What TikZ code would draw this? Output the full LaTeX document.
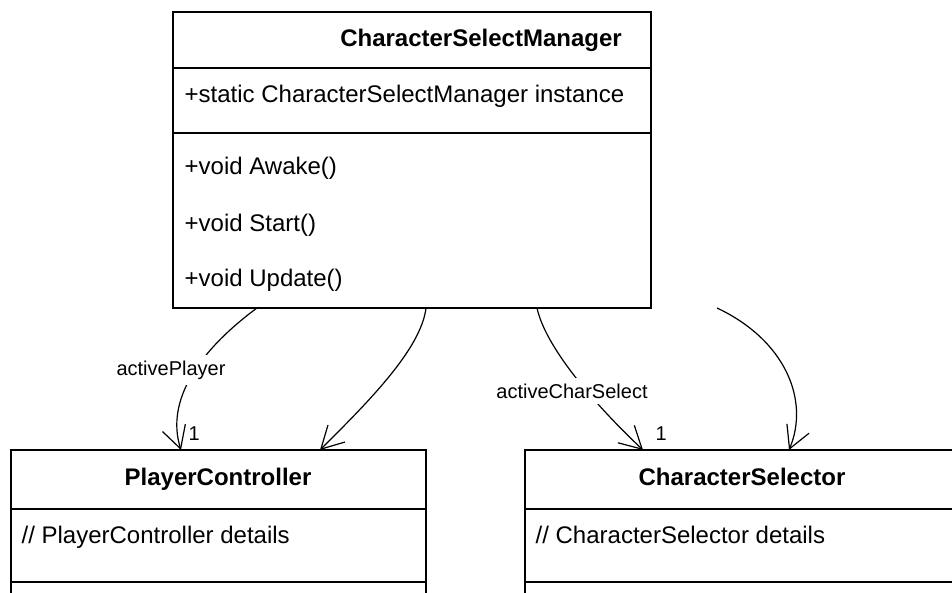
\documentclass[tikz,border=0pt]{standalone}
\usepackage{fontspec}
\setmainfont{Liberation Sans}
\usetikzlibrary{arrows.meta}

\begin{document}
\begin{tikzpicture}[x=1pt, y=-1pt, line width=1.3pt,
  classbox/.style={draw, anchor=north west, inner sep=0pt, outer sep=0pt},
  classname/.style={font=\fontsize{24}{28}\selectfont\bfseries, anchor=base, inner sep=0pt},
  member/.style={font=\fontsize{24}{28}\selectfont, anchor=base west, inner sep=0pt},
  assoc/.style={line width=1.2pt, -{Straight Barb[length=22pt,width=24pt]}},
  role/.style={font=\fontsize{20}{24}\selectfont, fill=white, anchor=base, inner xsep=2pt, inner ysep=6pt},
  mult/.style={font=\fontsize{20}{24}\selectfont, anchor=base west, inner sep=0pt}]
  \useasboundingbox (0,0) rectangle (952,593);
  \clip (0,0) rectangle (952,593);

  % classes
  \node[classbox, minimum width=478, minimum height=296] (csm) at (173,12) {};
  \node[classbox, minimum width=415, minimum height=200] (pc) at (11,450) {};
  \node[classbox, minimum width=434, minimum height=200] (cs) at (525,450) {};

  \draw ([yshift=-56]csm.north west) -- ([yshift=-56]csm.north east);
  \draw ([yshift=-121]csm.north west) -- ([yshift=-121]csm.north east);
  \draw ([yshift=-59]pc.north west) -- ([yshift=-59]pc.north east);
  \draw ([yshift=-132]pc.north west) -- ([yshift=-132]pc.north east);
  \draw ([yshift=-59]cs.north west) -- ([yshift=-59]cs.north east);
  \draw ([yshift=-132]cs.north west) -- ([yshift=-132]cs.north east);

  \node[classname] (csmname) at (481,47) {CharacterSelectManager};
  \node[member] (csminst) at (184,103) {+static CharacterSelectManager instance};
  \node[member] (csmawake) at (184,175) {+void Awake()};
  \node[member] (csmstart) at (184,232) {+void Start()};
  \node[member] (csmupdate) at (184,287) {+void Update()};

  \node[classname] (pcname) at (218,485) {PlayerController};
  \node[member] (pcdetails) at (21,543) {// PlayerController details};
  \node[classname] (csname) at (742,485) {CharacterSelector};
  \node[member] (csdetails) at (535,543) {// CharacterSelector details};

  % associations
  \draw[assoc] ([xshift=84]csm.south west) .. controls +(-57,42) and +(-16,-50) .. ([xshift=170]pc.north west);
  \draw[assoc] ([xshift=253]csm.south west) .. controls +(-5,42) and +(45,-45) .. ([xshift=309]pc.north west);
  \draw[assoc] ([xshift=364]csm.south west) .. controls +(8,37) and +(-53,-50) .. ([xshift=118]cs.north west);
  \draw[assoc] ([xshift=544]csm.south west) .. controls +(68,32) and +(21,-50) .. ([xshift=264]cs.north west);

  \node[role] (rplayer) at (171,375) {activePlayer};
  \node[role] (rselect) at (572,398) {activeCharSelect};
  \node[mult] (mplayer) at (188,440) {1};
  \node[mult] (mselect) at (655,440) {1};

\end{tikzpicture}
\end{document}
